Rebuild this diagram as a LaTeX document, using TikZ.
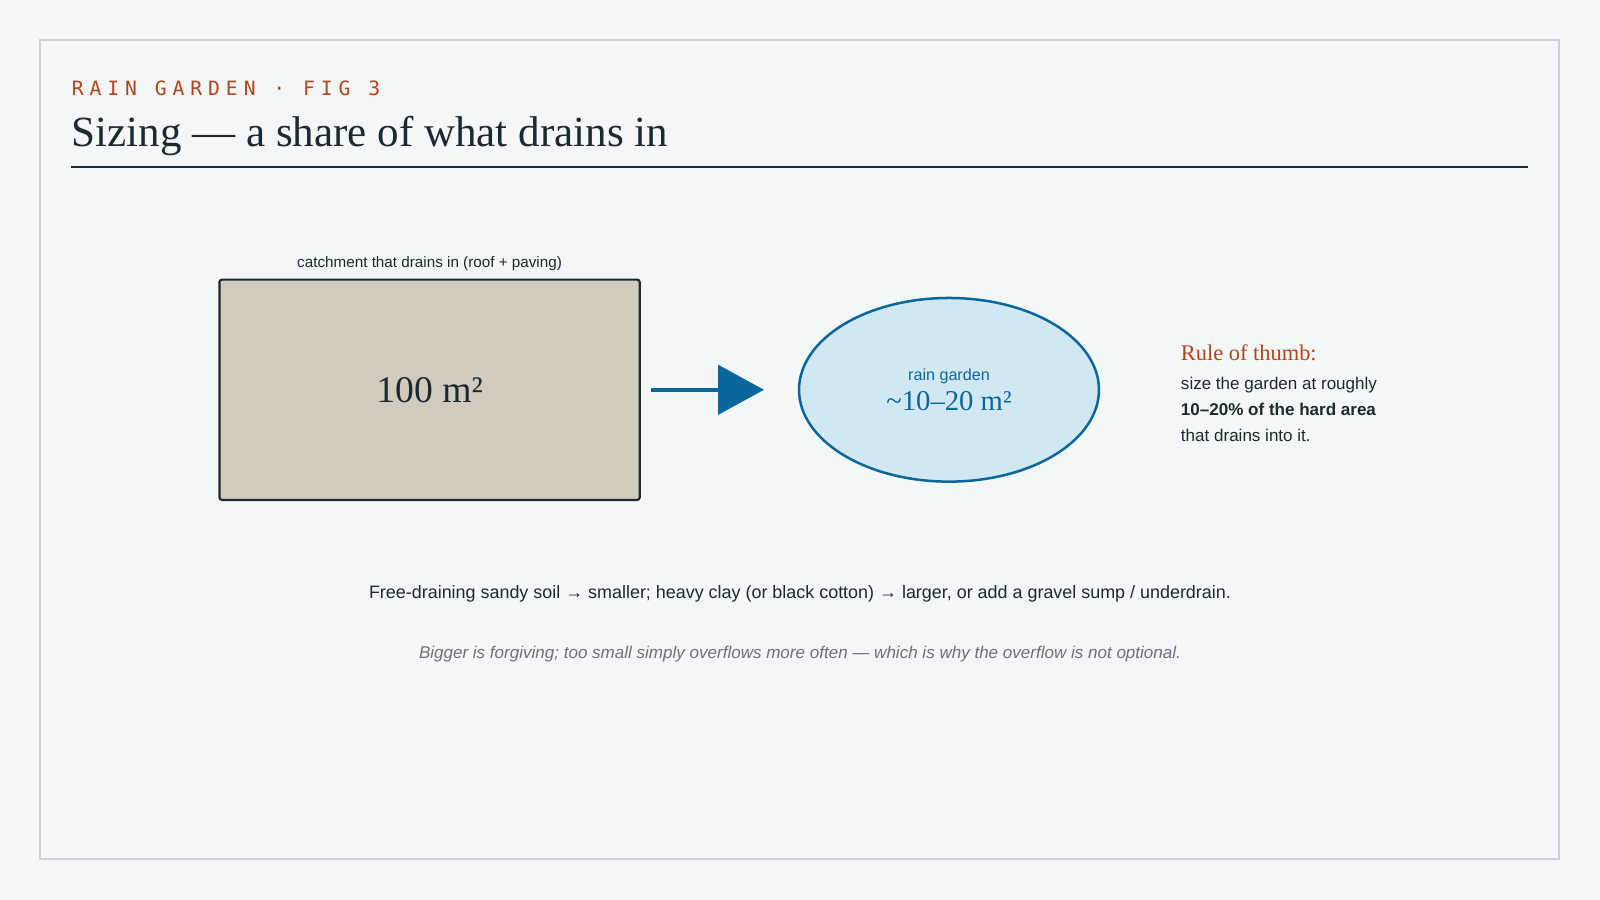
\documentclass[tikz,border=0pt]{standalone}
\usepackage{fontspec}
\setmainfont{Liberation Serif}
\setsansfont{Liberation Sans}
\setmonofont{DejaVu Sans Mono}
\usepackage{xcolor}
\usetikzlibrary{positioning,arrows.meta,shapes.geometric}
\definecolor{pagebg}{HTML}{F3F7F8}
\definecolor{frameline}{HTML}{C9D3D7}
\definecolor{accent}{HTML}{B4441B}
\definecolor{ink}{HTML}{1D2930}
\definecolor{soil}{HTML}{D0CBBC}
\definecolor{pond}{HTML}{D1E8F2}
\definecolor{water}{HTML}{0A679C}
\definecolor{muted}{HTML}{6B7378}

\begin{document}
\begin{tikzpicture}[
  x=0.02cm, y=-0.02cm,
  catchbox/.style={rectangle, draw=ink, line width=1.2pt, fill=soil, rounded corners=1.5pt,
                   minimum width=8.24cm, minimum height=4.32cm, font=\fontsize{21}{24}\selectfont, text=ink},
  gardenpond/.style={ellipse, draw=water, line width=1.4pt, fill=pond,
                     minimum width=5.88cm, minimum height=3.6cm, align=center, text=water},
  flow/.style={-{Triangle[length=0.9cm, width=0.96cm]}, line width=2.4pt, draw=water}
]

% page and frame
\fill[pagebg] (0,0) rectangle (1568,882);
\useasboundingbox (0,0) rectangle (1568,882);
\draw[frameline, line width=0.8pt] (39,39) rectangle (1528,842);

% header
\node[anchor=base west, inner sep=0pt, text=accent, font=\ttfamily\addfontfeature{LetterSpace=30}\fontsize{11}{13}\selectfont] (kicker) at (70,94) {RAIN GARDEN · FIG 3};
\node[anchor=base west, inner sep=0pt, text=ink, font=\fontsize{24}{28}\selectfont] (title) at (70,144) {Sizing — a share of what drains in};
\draw[ink, line width=1pt] (70,164) -- (1497,164);

% catchment and garden
\node[catchbox] (catch) at (421,382) {100 m²};
\node[above=1pt of catch, font=\sffamily\fontsize{8.5}{10}\selectfont, text=ink] (catchlabel) {catchment that drains in (roof + paving)};
\node[gardenpond] (garden) at (930,382) {{\sffamily\fontsize{9}{11}\selectfont rain garden}\\[3pt]{\fontsize{16}{19}\selectfont \textasciitilde10–20 m²}};

% flow arrow
\draw[flow, shorten <=0.2cm, shorten >=0.66cm] (catch) -- (garden);

% rule of thumb
\node[anchor=north west, inner sep=0pt, text=accent, font=\fontsize{12.5}{15}\selectfont] (rulehead) at (1157,337) {Rule of thumb:};
\node[below=9pt of rulehead.south west, anchor=north west, inner sep=0pt, align=left, text=ink, font=\sffamily\fontsize{9.5}{14.5}\selectfont] (rulebody)
  {size the garden at roughly\\\textbf{10–20\% of the hard area}\\that drains into it.};

% notes
\node[text=ink, font=\sffamily\fontsize{10}{12}\selectfont] (soilnote) at (784,582)
  {Free-draining sandy soil → smaller; heavy clay (or black cotton) → larger, or add a gravel sump / underdrain.};
\node[text=muted, font=\sffamily\itshape\fontsize{9.5}{12}\selectfont] (overflownote) at (784,641)
  {Bigger is forgiving; too small simply overflows more often — which is why the overflow is not optional.};

\end{tikzpicture}
\end{document}
